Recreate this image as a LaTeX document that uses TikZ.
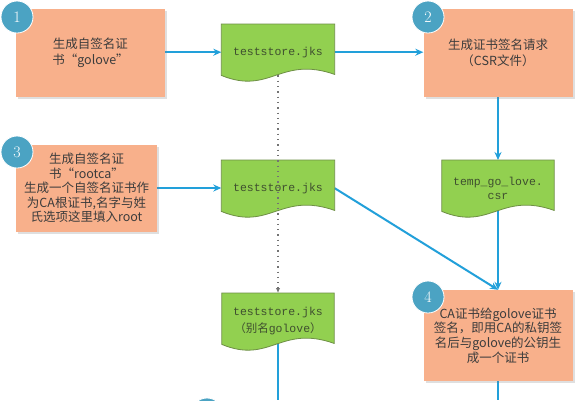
\documentclass[tikz,border=0pt]{standalone}
\usepackage{fontspec}
\newfontfamily\cjk{Noto Sans CJK SC}
\newfontfamily\mono{Liberation Mono}
\usetikzlibrary{calc,arrows.meta,shadows}
\definecolor{salmon}{HTML}{F8B08B}
\definecolor{numblue}{HTML}{4BA3C3}
\definecolor{docgreen}{HTML}{92D050}
\definecolor{docedge}{HTML}{6E8F45}
\definecolor{doctext}{HTML}{3F4F2F}
\definecolor{boxtext}{HTML}{3C3C3C}
\definecolor{connblue}{HTML}{22A0DA}
\pgfdeclarelayer{bg}
\pgfdeclarelayer{lines}
\pgfdeclarelayer{shapes}
\pgfsetlayers{bg,lines,shapes,main}
\tikzset{
  box/.style={rectangle, fill=salmon, text=boxtext, align=center, inner sep=2pt,
    font={\cjk\fontsize{12.5}{15}\selectfont},
    drop shadow={shadow xshift=2pt, shadow yshift=-2pt, opacity=.25, fill=gray}},
  num/.style={circle, fill=numblue, draw=white, line width=0.8pt, minimum size=32pt,
    inner sep=0pt, text=white, font={\fontsize{16}{16}\selectfont}},
  docnode/.style={rectangle, minimum height=56pt, inner sep=0pt, anchor=north,
    text=doctext, align=center, font={\mono\fontsize{11.5}{15}\selectfont}},
  docshape/.style={fill=docgreen, draw=docedge, line width=0.8pt},
  conn/.style={draw=connblue, line width=2pt, -{Stealth[length=8pt,width=7pt]}},
  connline/.style={draw=connblue, line width=2pt},
  dotconn/.style={draw=black!55, line width=1.3pt, dash pattern=on 1.3pt off 4pt,
    -{Latex[length=5pt,width=4.5pt]}}
}
\newcommand\docbody[1]{%
  \begin{pgfonlayer}{shapes}
  \draw[docshape] (#1.north west) -- (#1.north east) -- ([yshift=6pt]#1.south east)
    .. controls ($(#1.south west)!0.52!(#1.south east)+(0,25pt)$)
    and ($(#1.south west)!0.43!(#1.south east)+(0,-15pt)$)
    .. ([yshift=5pt]#1.south west) -- cycle;
  \end{pgfonlayer}}
\begin{document}
\begin{tikzpicture}[x=1pt,y=-1pt]
\begin{pgfonlayer}{bg}
\fill[white] (0,0) rectangle (576,400);
\end{pgfonlayer}
\useasboundingbox (0,0) rectangle (576,400);
% boxes
\node[box, minimum width=149pt, minimum height=88pt, font={\cjk\fontsize{12.5}{16}\selectfont}] (b1) at (90.5,53) {生成自签名证\\书“golove”};
\node[box, minimum width=149pt, minimum height=88pt, font={\cjk\fontsize{12.5}{16}\selectfont}] (b2) at (498,53) {\raisebox{-5pt}{\parbox{140pt}{\centering 生成证书签名请求\\（CSR文件）}}};
\node[box, minimum width=141pt, minimum height=87pt, font={\cjk\fontsize{12.5}{14.5}\selectfont}] (b3) at (86.5,188) {生成自签名证\\书“rootca”\\生成一个自签名证书作\\为CA根证书,名字与姓\\氏选项这里填入root};
\node[box, minimum width=149pt, minimum height=91pt, font={\cjk\fontsize{12.5}{14.7}\selectfont}] (b4) at (498,335.5) {CA证书给golove证书\\签名，即用CA的私钥签\\名后与golove的公钥生\\成一个证书};
% documents
\node[docnode, minimum width=113pt] (d1) at (278,24) {teststore.jks};
\node[docnode, minimum width=113pt] (d2) at (278,160) {teststore.jks};
\node[docnode, minimum width=112pt, font={\mono\fontsize{11.5}{17}\selectfont}] (d3) at (278,293) {teststore.jks\\{\cjk （别名}golove{\cjk ）}};
\node[docnode, minimum width=112pt, font={\mono\fontsize{11.5}{14}\selectfont}] (csr) at (498,160) {temp\_go\_love.\\csr};
\docbody{d1}
\docbody{d2}
\docbody{d3}
\docbody{csr}
% numbers
\node[num] (n1) at (17,17) {1};
\node[num] (n2) at (428,17) {2};
\node[num] (n3) at (17,152) {3};
\node[num] (n4) at (428,297) {4};
\node[num] (n5) at (207,414) {};
% free ends
\coordinate (e1) at (498,400);
\coordinate (e2) at (278,400);
% connectors
\begin{pgfonlayer}{lines}
\draw[conn] (b1.east |- d1.east) -- (d1.west);
\draw[conn] (d1.east) -- (d1.east -| b2.west);
\draw[conn] (b2.south) -- (b2.south |- csr.north);
\draw[conn] (csr.center) -- (b4.north);
\draw[conn] (b3.east) -- (b3.east -| d2.west);
\draw[conn] (d2.east) -- (b4.north);
\draw[connline] (b4.south) -- (e1);
\draw[connline] (d3.center) -- (e2);
\end{pgfonlayer}
\draw[dotconn] ([yshift=5pt]d1.south) -- (d3.north);
\end{tikzpicture}
\end{document}
